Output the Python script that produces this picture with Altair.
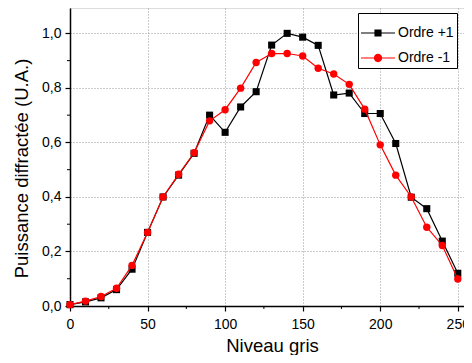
import altair as alt
import pandas as pd

niveau = [0, 10, 20, 30, 40, 50, 60, 70, 80, 90, 100, 110, 120, 130, 140, 150,
          160, 170, 180, 190, 200, 210, 220, 230, 240, 250]
ordre_p1 = [0.005, 0.015, 0.03, 0.06, 0.135, 0.27, 0.40, 0.48, 0.56, 0.70, 0.637,
            0.73, 0.786, 0.957, 1.0, 0.986, 0.956, 0.774, 0.781, 0.706, 0.706,
            0.596, 0.399, 0.357, 0.238, 0.12]
ordre_m1 = [0.005, 0.018, 0.035, 0.065, 0.149, 0.27, 0.40, 0.483, 0.562, 0.679,
            0.72, 0.799, 0.893, 0.926, 0.926, 0.917, 0.872, 0.851, 0.813, 0.722,
            0.591, 0.48, 0.40, 0.289, 0.222, 0.099]
series = ["Ordre +1", "Ordre -1"]
colors = ["black", "red"]
x_ticks = [0, 50, 100, 150, 200, 250]
x_minor = [25, 75, 125, 175, 225]
y_ticks = [0.0, 0.2, 0.4, 0.6, 0.8, 1.0]
y_minor = [0.1, 0.3, 0.5, 0.7, 0.9, 1.1]

FONT = "Liberation Sans"

df = pd.DataFrame({
    "x": niveau * 2,
    "y": ordre_p1 + ordre_m1,
    "serie": [series[0]] * len(niveau) + [series[1]] * len(niveau),
})

W, H = 394, 298
xscale = alt.Scale(domain=[0, 254], nice=False)
yscale = alt.Scale(domain=[0, 1.093], nice=False)

xaxis = alt.Axis(values=x_ticks, title="Niveau gris", format="d",
                 grid=True, gridDash=[1, 2], gridColor="#999999", gridWidth=1,
                 domainColor="black", domainWidth=1.5, tickColor="black",
                 tickSize=5, tickWidth=1.2, labelFont=FONT, labelFontSize=14,
                 labelColor="black", labelPadding=6, labelFlush=False,
                 labelOverlap=False,
                 titleFont=FONT, titleFontSize=18.5, titleFontWeight="normal",
                 titleColor="black", titleX=202, titleY=45,
                 titleBaseline="alphabetic")
yaxis = alt.Axis(values=y_ticks, title="Puissance diffractée (U.A.)",
                 labelExpr="replace(format(datum.value, '.1f'), '.', ',')",
                 grid=True, gridDash=[1, 2], gridColor="#999999", gridWidth=1,
                 domainColor="black", domainWidth=1.5, tickColor="black",
                 tickSize=5, tickWidth=1.2, labelFont=FONT, labelFontSize=14,
                 labelColor="black", labelPadding=4, labelFlush=False,
                 labelOverlap=False,
                 titleFont=FONT, titleFontSize=18.5, titleFontWeight="normal",
                 titleColor="black", titleX=-43, titleY=160,
                 titleBaseline="alphabetic")

X = alt.X("x:Q", scale=xscale, axis=xaxis)
Y = alt.Y("y:Q", scale=yscale, axis=yaxis)

base = alt.Chart(df)

line_p1 = base.transform_filter(alt.datum.serie == series[0]).mark_line(
    color=colors[0], strokeWidth=1.2).encode(x=X, y=Y)
pts_p1 = base.transform_filter(alt.datum.serie == series[0]).mark_point(
    shape="square", filled=True, color=colors[0], size=50, opacity=1).encode(x=X, y=Y)
line_m1 = base.transform_filter(alt.datum.serie == series[1]).mark_line(
    color=colors[1], strokeWidth=1.2).encode(x=X, y=Y)
pts_m1 = base.transform_filter(alt.datum.serie == series[1]).mark_point(
    shape="circle", filled=True, color=colors[1], size=55, opacity=1).encode(x=X, y=Y)

# minor ticks
ymin_df = pd.DataFrame({"y": y_minor})
xmin_df = pd.DataFrame({"x": x_minor})
yminor = alt.Chart(ymin_df).mark_rule(color="black", strokeWidth=1).encode(
    y=Y, x=alt.value(-3), x2=alt.value(0))
xminor = alt.Chart(xmin_df).mark_rule(color="black", strokeWidth=1).encode(
    x=X, y=alt.value(H), y2=alt.value(H + 3))

# legend layer (no visible marks)
line_path = "M-1,-0.035L1,-0.035L1,0.035L-1,0.035Z"
sq_path = line_path + "M-0.21,-0.21L0.21,-0.21L0.21,0.21L-0.21,0.21Z"
ci_path = line_path + "M0.245,0A0.245,0.245 0 1,1 -0.245,0A0.245,0.245 0 1,1 0.245,0Z"
leg = alt.Legend(title=None, orient="none", legendX=288, legendY=5,
                 strokeColor="black", fillColor="white", padding=3,
                 symbolSize=1156, symbolStrokeWidth=0, labelFont=FONT,
                 labelFontSize=14, labelColor="black", labelOffset=3,
                 rowPadding=1, cornerRadius=0)
legend_layer = base.transform_filter("false").mark_point(
    filled=True, opacity=1).encode(
    x=X, y=Y,
    color=alt.Color("serie:N", scale=alt.Scale(domain=series, range=colors), legend=leg),
    shape=alt.Shape("serie:N", scale=alt.Scale(domain=series, range=[sq_path, ci_path]), legend=leg),
)

chart = alt.layer(yminor, xminor, line_p1, pts_p1, line_m1, pts_m1, legend_layer).properties(
    width=W, height=H,
    autosize=alt.AutoSizeParams(type="none"),
    padding={"left": 62, "top": 0, "right": 0, "bottom": 49},
).configure_view(stroke=None).configure(background="white")

chart.save("out.html", embed_options={"renderer": "svg", "actions": False})
